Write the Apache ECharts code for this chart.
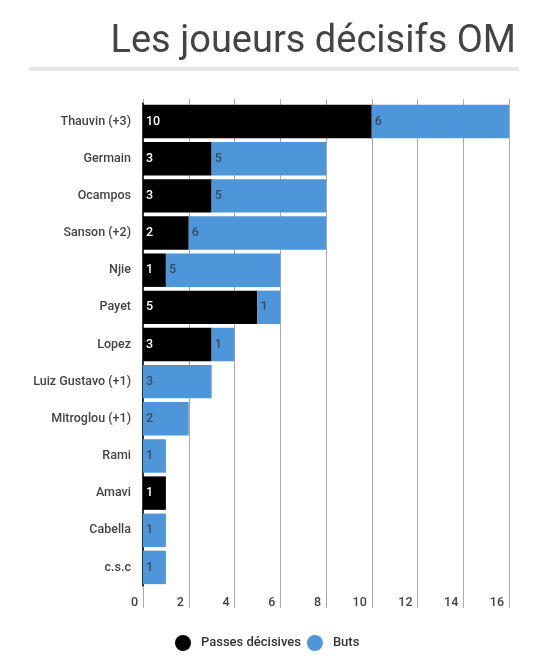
<!DOCTYPE html>
<html>
<head>
<meta charset="utf-8">
<script src="https://cdn.jsdelivr.net/npm/echarts@6/dist/echarts.min.js"></script>
<style>
	html, body { margin: 0; padding: 0; background: #fff; }
	#chart { width: 549px; height: 669px; }
</style>
</head>
<body>
<div id="chart"></div>
<script>
	// data
	var players = ['Thauvin (+3)', 'Germain', 'Ocampos', 'Sanson (+2)', 'Njie', 'Payet', 'Lopez',
		'Luiz Gustavo (+1)', 'Mitroglou (+1)', 'Rami', 'Amavi', 'Cabella', 'c.s.c'];
	var passes = [10, 3, 3, 2, 1, 5, 3, 0, 0, 0, 1, 0, 0];
	var buts = [6, 5, 5, 6, 5, 1, 1, 3, 2, 1, 0, 1, 1];
	var seriesNames = ['Passes décisives', 'Buts'];

	var font = 'Roboto, "Noto Sans", sans-serif';
	let chart = echarts.init(document.getElementById('chart'));

	function hideZero(p) {
		return p.value ? p.value : '';
	}

	let option = {
		animation: false,
		title: {
			text: 'Les joueurs décisifs OM',
			right: 28,
			top: 18,
			textStyle: { fontFamily: font, fontSize: 38, fontWeight: 'normal', color: '#444' }
		},
		graphic: [{
			type: 'rect',
			shape: { x: 29, y: 67, width: 490, height: 4 },
			style: { fill: '#e6e6e6' }
		}],
		legend: {
			data: seriesNames,
			bottom: 13,
			left: 170,
			icon: 'circle',
			itemWidth: 26,
			itemHeight: 16,
			itemGap: 6,
			textStyle: { fontFamily: font, fontSize: 13, fontWeight: 500, color: '#333' }
		},
		grid: { left: 143, right: 40, top: 103, bottom: 83 },
		xAxis: [{
			type: 'value',
			min: 0,
			max: 16,
			interval: 2,
			axisLine: { show: false },
			axisTick: { show: true, length: 22, lineStyle: { color: '#aaa' } },
			splitLine: { show: true, lineStyle: { color: '#aaa' } },
			axisLabel: {
				margin: 10, align: 'right', padding: [0, 5, 0, 0],
				fontFamily: font, fontSize: 12.5, fontWeight: 500, color: '#444'
			}
		}, {
			type: 'value',
			position: 'top',
			min: 0,
			max: 16,
			interval: 2,
			axisLine: { show: false },
			axisTick: { show: true, length: 4, lineStyle: { color: '#aaa' } },
			splitLine: { show: false },
			axisLabel: { show: false }
		}],
		yAxis: {
			type: 'category',
			inverse: true,
			data: players,
			axisLine: { lineStyle: { color: '#333', width: 2 } },
			axisTick: { show: false },
			axisLabel: { margin: 12, fontFamily: font, fontSize: 12.5, fontWeight: 500, color: '#444' }
		},
		series: [{
			name: seriesNames[0],
			type: 'bar',
			stack: 'total',
			barCategoryGap: '10%',
			itemStyle: { color: '#000' },
			label: {
				show: true, position: 'insideLeft', distance: 3, formatter: hideZero,
				fontFamily: font, fontSize: 12.5, fontWeight: 500, color: '#fff'
			},
			data: passes
		}, {
			name: seriesNames[1],
			type: 'bar',
			stack: 'total',
			barCategoryGap: '10%',
			itemStyle: { color: '#4e96da' },
			label: {
				show: true, position: 'insideLeft', distance: 3, formatter: hideZero,
				fontFamily: font, fontSize: 12.5, fontWeight: 500, color: '#3b4a5c'
			},
			data: buts
		}]
	};

	chart.setOption(option);
</script>
</body>
</html>
